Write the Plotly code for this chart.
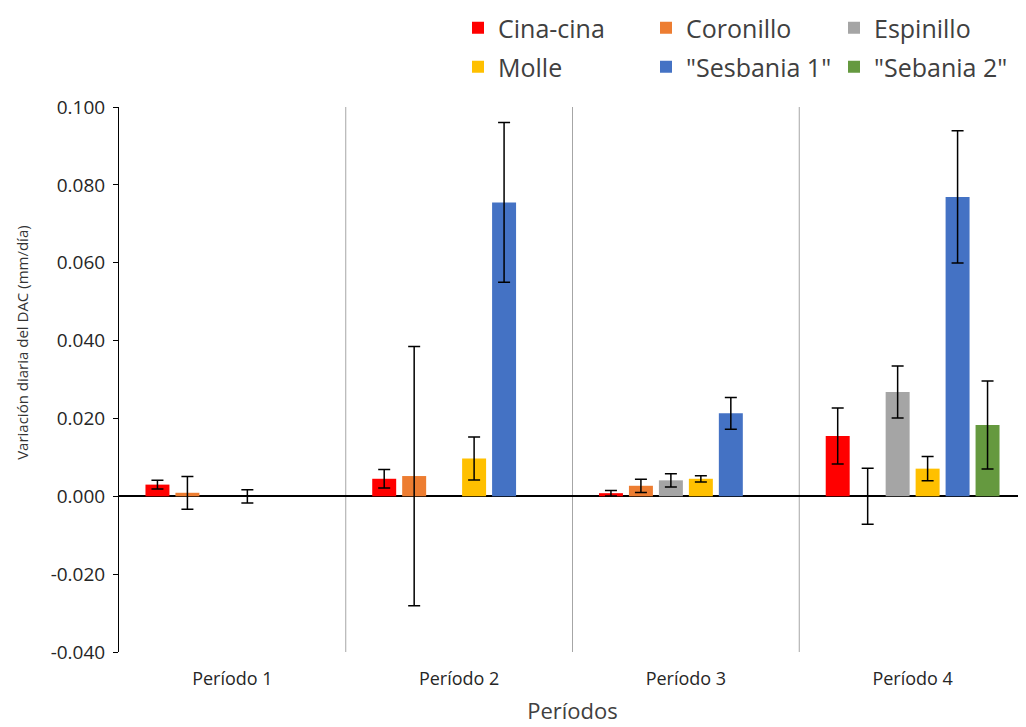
import plotly.graph_objects as go

categories = ["Período 1", "Período 2", "Período 3", "Período 4"]
species = ["Cina-cina", "Coronillo", "Espinillo", "Molle", "\"Sesbania 1\"", "\"Sebania 2\""]
colors = ["#FF0000", "#ED7D31", "#A5A5A5", "#FFC000", "#4472C4", "#65993F"]

cina_cina = [0.0030, 0.0045, 0.0008, 0.0155]
cina_cina_err = [0.0011, 0.0024, 0.0007, 0.0072]
coronillo = [0.0009, 0.0052, 0.0027, 0.0]
coronillo_err = [0.0042, 0.0333, 0.0017, 0.0072]
espinillo = [None, None, 0.0041, 0.0268]
espinillo_err = [None, None, 0.0017, 0.0067]
molle = [0.0, 0.0097, 0.0045, 0.0071]
molle_err = [0.0017, 0.0055, 0.0008, 0.0031]
sesbania1 = [None, 0.0755, 0.0213, 0.0769]
sesbania1_err = [None, 0.0205, 0.0041, 0.0170]
sebania2 = [None, None, None, 0.0183]
sebania2_err = [None, None, None, 0.0113]

y_ticks = [-0.04, -0.02, 0.0, 0.02, 0.04, 0.06, 0.08, 0.10]
y_tick_text = ["%.3f" % v for v in y_ticks]
y_title = "Variación diaria del DAC (mm/día)"
x_title = "Períodos"

values = [cina_cina, coronillo, espinillo, molle, sesbania1, sebania2]
errors = [cina_cina_err, coronillo_err, espinillo_err, molle_err, sesbania1_err, sebania2_err]

fig = go.Figure()
for i, (name, vals, errs, col) in enumerate(zip(species, values, errors, colors)):
    fig.add_trace(go.Bar(
        x=categories, y=vals, name=name,
        marker=dict(color=col, line=dict(width=0)),
        error_y=dict(type="data", array=errs, visible=True, color="#000000",
                     thickness=1.5, width=6),
        legend="legend" if i < 3 else "legend2",
    ))

for xb in [0.5, 1.5, 2.5]:
    fig.add_shape(type="line", xref="x", yref="paper", x0=xb, x1=xb, y0=0, y1=1,
                  line=dict(color="#A6A6A6", width=1), layer="below")

fig.add_annotation(
    text=y_title, textangle=-90, xref="paper", yref="paper",
    x=-0.107, y=0.569, xanchor="center", yanchor="middle", showarrow=False,
    font=dict(family="Open Sans", size=15, color="#333333"),
)

legend_common = dict(
    orientation="h", xref="container", yref="container",
    x=0.4386, xanchor="left", yanchor="middle",
    font=dict(family="Open Sans", size=25, color="#404040"),
    entrywidth=143, entrywidthmode="pixels",
    bgcolor="rgba(0,0,0,0)", borderwidth=0, itemclick=False, itemdoubleclick=False,
)

fig.update_layout(
    width=1026, height=727,
    margin=dict(l=111, r=8, t=99, b=83, autoexpand=False),
    paper_bgcolor="white", plot_bgcolor="white",
    barmode="group", bargap=0.207, bargroupgap=0.2,
    showlegend=True,
    legend=dict(legend_common, y=1 - 20 / 727),
    legend2=dict(legend_common, y=1 - 59 / 727),
    xaxis=dict(
        showline=False, showgrid=False, ticks="",
        ticklabelstandoff=14,
        tickfont=dict(family="Open Sans", size=18, color="#262626"),
        title=dict(text=x_title, font=dict(family="Open Sans", size=22, color="#404040"),
                   standoff=14),
    ),
    yaxis=dict(
        range=[-0.04, 0.10], tickvals=y_ticks, ticktext=y_tick_text,
        showline=True, linecolor="#000000", linewidth=1,
        ticks="outside", ticklen=5, tickcolor="#000000",
        ticklabelstandoff=4,
        showgrid=False,
        zeroline=True, zerolinecolor="#000000", zerolinewidth=1.5,
        tickfont=dict(family="Open Sans", size=19, color="#262626"),
    ),
)

fig.write_html("out.html")
